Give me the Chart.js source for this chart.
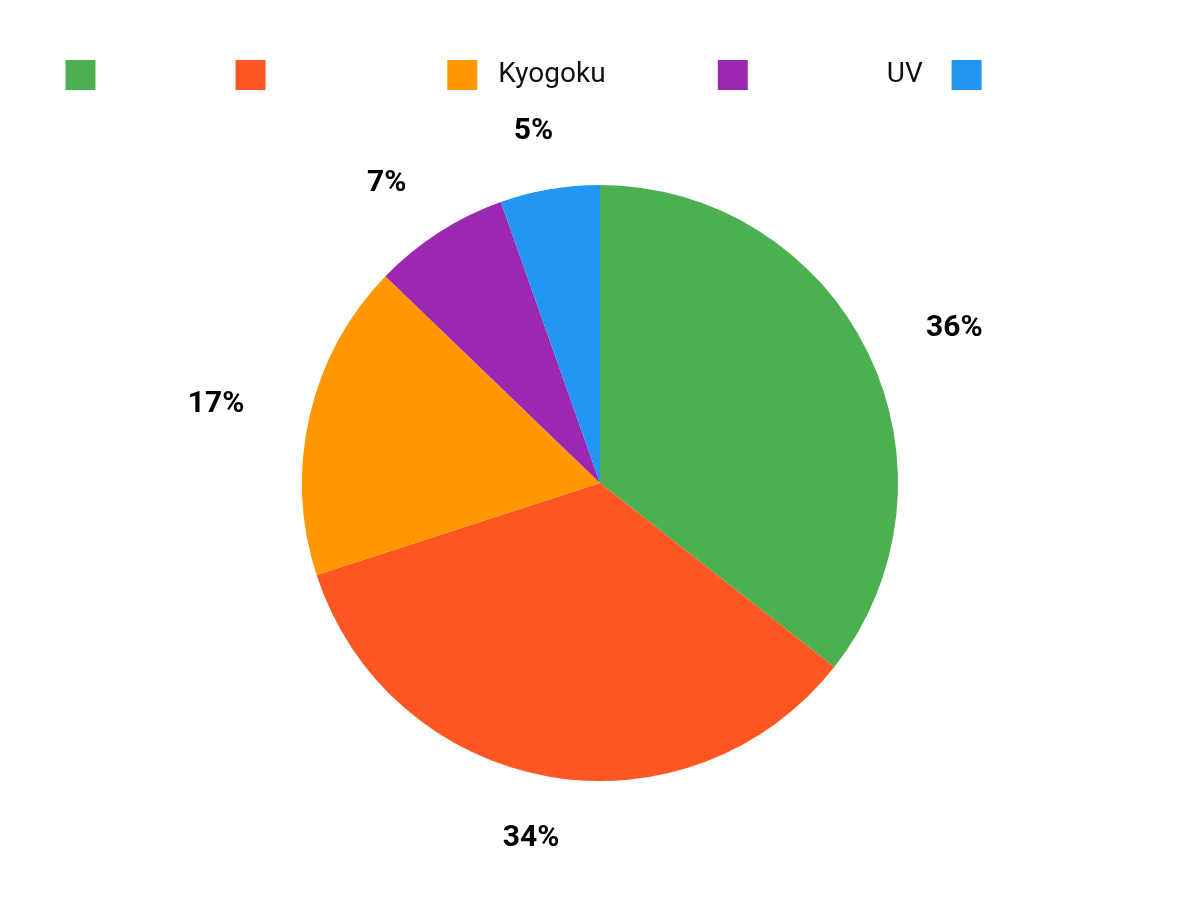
<!DOCTYPE html>
<html>
<head>
<meta charset="utf-8">
<script src="https://cdn.jsdelivr.net/npm/chart.js@4"></script>
<style>
  html, body { margin: 0; padding: 0; background: #ffffff; }
  #wrap { width: 1200px; height: 900px; position: relative; }
</style>
</head>
<body>
<div id="wrap"><canvas id="c" width="1200" height="900"></canvas></div>
<script>
// Categories (legend labels; most text in the reference renders blank)
const categories = [
  " ".repeat(17),
  " ".repeat(23),
  " Kyogoku" + " ".repeat(15),
  " ".repeat(18) + "UV" + " ".repeat(3),
  " ".repeat(20)
];
// Series values (share, %)
const values = [35.6, 34.4, 17.2, 7.4, 5.4];
const colors = ["#4CAF50", "#FF5722", "#FF9800", "#9C27B0", "#2196F3"];

const outsideLabels = {
  id: 'outsideLabels',
  afterDatasetsDraw(chart) {
    const ctx = chart.ctx;
    const meta = chart.getDatasetMeta(0);
    const data = chart.data.datasets[0].data;
    const total = data.reduce((a, b) => a + b, 0);
    ctx.save();
    ctx.font = 'bold 30px Roboto';
    ctx.fillStyle = '#000000';
    ctx.textAlign = 'center';
    ctx.textBaseline = 'middle';
    meta.data.forEach((arc, i) => {
      const p = arc.getProps(['x', 'y', 'startAngle', 'endAngle', 'outerRadius'], true);
      const mid = (p.startAngle + p.endAngle) / 2;
      const tx = p.x + Math.cos(mid) * (p.outerRadius + 96);
      const ty = p.y + Math.sin(mid) * (p.outerRadius + 61) + 2;
      ctx.fillText(Math.round(data[i] / total * 100) + '%', tx, ty);
    });
    ctx.restore();
  }
};

new Chart(document.getElementById('c'), {
  type: 'pie',
  data: {
    labels: categories,
    datasets: [{
      data: values,
      backgroundColor: colors,
      borderWidth: 0,
      radius: 298,
      hoverOffset: 0
    }]
  },
  options: {
    responsive: false,
    animation: false,
    devicePixelRatio: 1,
    layout: { padding: { top: 52, bottom: 34, left: 0, right: 0 } },
    plugins: {
      legend: {
        position: 'top',
        labels: {
          boxWidth: 30,
          boxHeight: 30,
          padding: 8,
          color: '#111111',
          font: { family: 'Roboto', size: 28 }
        }
      },
      tooltip: { enabled: false }
    }
  },
  plugins: [outsideLabels]
});
</script>
</body>
</html>
